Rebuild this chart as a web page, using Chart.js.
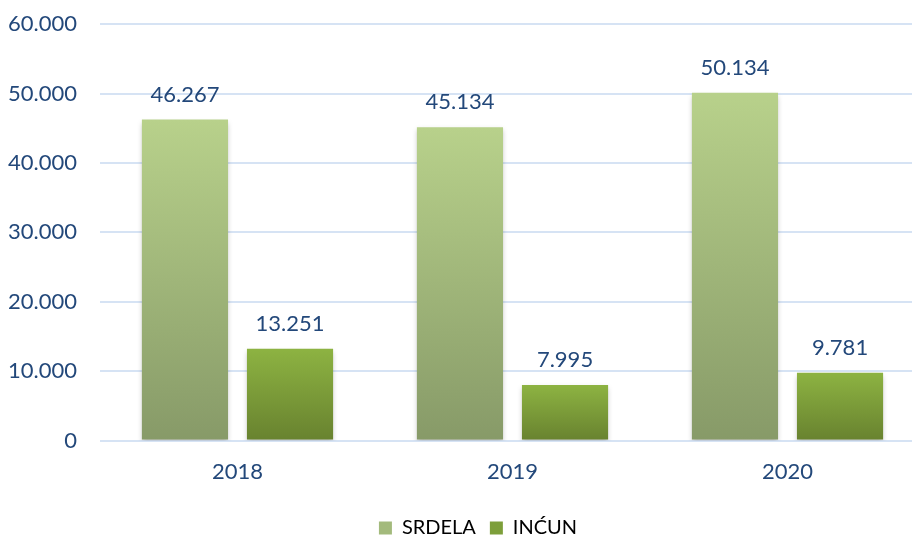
<!DOCTYPE html>
<html>
<head>
<meta charset="utf-8">
<script src="https://cdn.jsdelivr.net/npm/chart.js@4/dist/chart.umd.min.js"></script>
<style>
  html, body { margin: 0; padding: 0; background: #fff; overflow: hidden; width: 912px; height: 536px; }
  #wrap { width: 981px; height: 560px; position: absolute; left: -25px; top: -12px; }
</style>
</head>
<body>
<div id="wrap"><canvas id="chart"></canvas></div>
<script>
// ---------- Data ----------
const YEARS = ["2018", "2019", "2020"];
const SRDELA = [46267, 45134, 50134];
const INCUN = [13251, 7995, 9781];
const SERIES_NAMES = ["SRDELA", "INĆUN"];

const BLUE_TEXT = "#23487a";
const FONT = "Lato, 'Open Sans', sans-serif";

// "46267" -> "46.267"
const fmt = v => Math.round(v).toString().replace(/\B(?=(\d{3})+(?!\d))/g, ".");

// vertical gradient per bar, light at top
function barGradient(top, bottom) {
  return ctx => {
    const chart = ctx.chart;
    if (!chart.chartArea || ctx.type !== "data") return top;
    const y = chart.scales.y;
    const yTop = y.getPixelForValue(ctx.raw);
    const yBot = y.getPixelForValue(0);
    const g = chart.ctx.createLinearGradient(0, yTop, 0, yBot);
    g.addColorStop(0, top);
    g.addColorStop(1, bottom);
    return g;
  };
}

// ---------- Plugins ----------
const barShadow = {
  id: "barShadow",
  beforeDatasetsDraw(chart) {
    const c = chart.ctx;
    c.save();
    c.shadowColor = "rgba(0,0,0,0.25)";
    c.shadowBlur = 5;
    c.shadowOffsetY = 3;
  },
  afterDatasetsDraw(chart) { chart.ctx.restore(); }
};

const valueLabels = {
  id: "valueLabels",
  afterDatasetsDraw(chart) {
    const c = chart.ctx;
    c.save();
    c.font = `22px ${FONT}`;
    c.fillStyle = BLUE_TEXT;
    c.textAlign = "center";
    c.textBaseline = "middle";
    chart.data.datasets.forEach((ds, i) => {
      chart.getDatasetMeta(i).data.forEach((bar, j) => {
        c.fillText(fmt(ds.data[j]), bar.x, bar.y - 25);
      });
    });
    c.restore();
  }
};

// nudge the legend right so it sits centred under the page like the original
const legendShift = {
  id: "legendShift",
  afterLayout(chart) {
    const lg = chart.legend;
    if (!lg) return;
    lg.left += 23;
    lg.right += 23;
  }
};

// ---------- Chart ----------
new Chart(document.getElementById("chart"), {
  type: "bar",
  data: {
    labels: YEARS,
    datasets: [
      {
        label: SERIES_NAMES[0],
        data: SRDELA,
        backgroundColor: barGradient("#b8d18b", "#879a68"),
        borderWidth: 0
      },
      {
        label: SERIES_NAMES[1],
        data: INCUN,
        backgroundColor: barGradient("#8db342", "#68822f"),
        borderWidth: 0
      }
    ]
  },
  options: {
    responsive: true,
    maintainAspectRatio: false,
    animation: false,
    categoryPercentage: 0.764,
    barPercentage: 0.82,
    layout: { padding: { top: 3, right: 31, left: 10, bottom: 0 } },
    plugins: {
      tooltip: { enabled: false },
      legend: {
        position: "bottom",
        labels: {
          boxWidth: 13,
          boxHeight: 13,
          padding: 14,
          color: BLUE_TEXT,
          font: { family: FONT, size: 20 },
          generateLabels: chart => SERIES_NAMES.map((n, i) => ({
            text: n,
            fillStyle: i === 0 ? "#a3ba7c" : "#7d9f3a",
            strokeStyle: "transparent",
            lineWidth: 0,
            datasetIndex: i
          }))
        }
      }
    },
    scales: {
      x: {
        grid: { display: false },
        border: { display: false },
        ticks: { color: BLUE_TEXT, font: { family: FONT, size: 22 }, padding: 10 },
        afterFit: scale => { scale.height += 9; }
      },
      y: {
        min: 0,
        max: 60000,
        border: { display: false },
        grid: { color: "#d6e3f4", lineWidth: 2, drawTicks: false },
        ticks: {
          stepSize: 10000,
          color: BLUE_TEXT,
          font: { family: FONT, size: 22 },
          padding: 23,
          callback: v => fmt(v)
        }
      }
    }
  },
  plugins: [barShadow, valueLabels, legendShift]
});
</script>
</body>
</html>
